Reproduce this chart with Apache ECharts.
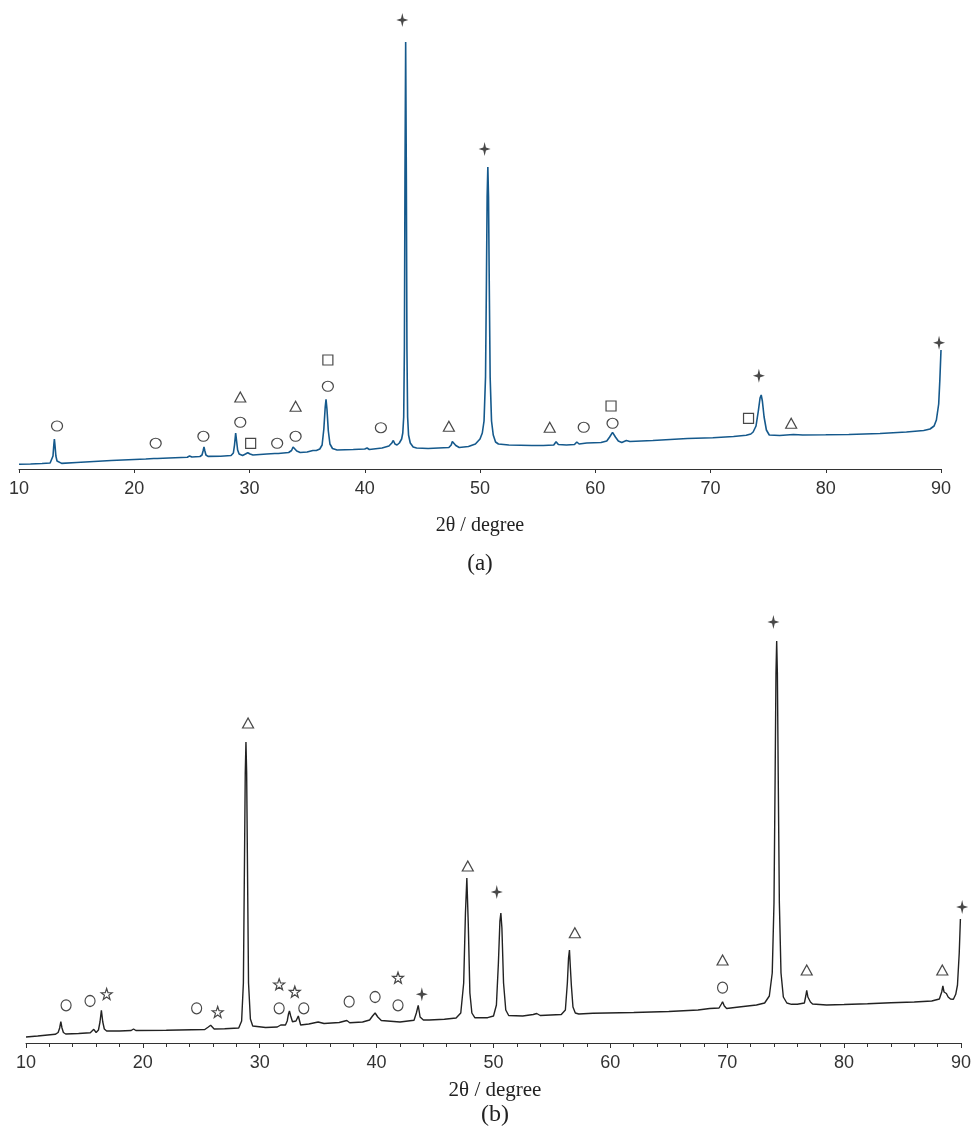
<!DOCTYPE html>
<html><head><meta charset="utf-8">
<script src="https://cdn.jsdelivr.net/npm/echarts@6/dist/echarts.min.js"></script>
<style>html,body{margin:0;padding:0;background:#fff}#c{width:974px;height:1133px}</style>
</head><body><div id="c"></div>
<script>
// ---------- data ----------
const xTicks = [10, 20, 30, 40, 50, 60, 70, 80, 90];
const axisTitle = '2θ / degree';
const panelLabels = ['(a)', '(b)'];

// (a) pattern: [2θ, intensity]
const patternA = [
  [10,4.7],[11,5],[12,5.5],[12.7,6],[12.85,8],[12.95,13],[13.02,24],[13.07,30],[13.12,24],[13.2,13],[13.3,8],[13.45,6.2],[13.7,5.6],
  [15,6.5],[18,8.5],[21,10],[21.7,10.5],[21.86,12],[22.0,10.5],[23,11],[24.6,11.8],[24.8,13],[25.0,12],
  [25.7,12.5],[25.88,14],[25.97,18],[26.05,22],[26.13,18],[26.22,14],[26.4,12.6],[27.5,12.8],[28.4,13.5],[28.6,16],[28.7,24],[28.8,36],
  [28.88,28],[28.97,19],[29.1,15],[29.4,13.5],[29.65,15],[29.85,16.3],[30.05,15],[30.3,14],[31.5,15],[32.2,15.5],
  [32.36,16.5],[32.5,15.5],[33.4,16.5],[33.65,18.5],[33.78,22],[33.86,23],[33.95,21],[34.1,18],[34.4,16.5],[35.0,17],[35.5,18.5],
  [35.8,18.5],[36.1,20],[36.3,24],[36.45,40],[36.57,62],[36.64,69.7],[36.72,60],[36.84,38],[36.98,25],[37.2,20.5],[37.6,19],[39.0,19.5],[40.0,20],
  [40.2,21],[40.4,19.5],[41.5,21],[42.1,23],[42.35,26],[42.48,28.5],[42.62,25],[42.8,24],[43.0,26],[43.2,30],[43.3,36],[43.38,52],[43.44,120],[43.49,290],
  [43.55,427],[43.61,290],[43.66,120],[43.72,52],[43.8,34],[43.95,26],[44.2,22],[44.5,21],[45.5,20.5],[47.3,21.5],[47.5,24],[47.6,27.5],[47.68,29.5],
  [47.77,27],[47.9,23.5],[48.2,21.5],[49.0,22.5],[49.6,25],[50.0,30],[50.2,36],[50.35,48],[50.48,92],[50.56,190],[50.62,272],[50.68,302],[50.74,272],
  [50.8,190],[50.88,92],[51.0,48],[51.15,34],[51.35,27],[51.6,25],[52.5,24],[54.5,23.5],[55.5,23.5],[56.4,24],[56.6,27.3],[56.8,24.5],
  [57.5,24],[58.2,24.5],[58.4,27],[58.6,25],[59.26,26],[60.5,26.5],[61.0,28],[61.25,32],[61.5,36.7],[61.75,32],[62.0,28],
  [62.3,26.5],[62.7,28.5],[63.0,27.5],[65,28.5],[68,30.5],[70.2,31.3],[72,32.5],[73.1,33.7],[73.5,35],
  [73.7,37],[73.95,43],[74.15,58],[74.3,71],[74.4,74],[74.5,68],[74.65,52],[74.85,39],[75.1,34],[76,33.5],[77.2,34.5],[78,34],
  [80,34.2],[82,34.5],[84.7,35.5],[87,37],[88.5,38.5],[89.05,40],[89.4,43],[89.6,49],[89.8,65],[89.9,89],[90,119]
];
// (a) phase markers
const aCircles   = [[13.3,43],[21.86,25.7],[26.0,32.7],[29.2,46.7],[32.4,25.7],[34.0,32.7],[36.8,82.7],[41.4,41.3],[59.0,41.7],[61.5,45.7]];
const aTriangles = [[29.2,72],[34.0,62.7],[47.3,42.7],[56.05,41.7],[77.0,45.7]];
const aSquares   = [[30.1,25.7],[36.8,109],[61.37,63],[73.3,50.7]];
const aSparkles  = [[43.26,449],[50.4,320],[74.2,93.3],[89.83,126.3]];

// (b) pattern: [2θ, intensity]
const patternB = [
  [10,6],[11,7],[12.5,8.7],[12.75,10.5],[12.88,15],[12.98,21.3],[13.08,15],[13.2,10.5],[13.4,9],[14.5,9.5],[15.5,10.3],[15.8,13.7],
  [16.0,10.5],[16.2,13],[16.33,21],[16.45,32.7],[16.57,21],[16.7,14],[16.9,12],[18,12],[19,12.5],[19.2,14],[19.4,12.5],[22,12.8],
  [25.3,13.5],[25.6,16],[25.8,17.7],[26.1,14],[27,14.3],[28.2,15],[28.45,22],[28.6,60],[28.7,190],[28.76,270],[28.82,301],
  [28.88,270],[28.94,190],[29.04,60],[29.2,24],[29.4,17],[30.5,15.5],[31.5,16],[31.8,18],[32.2,18],[32.35,22],[32.46,29],[32.54,32],[32.65,27],[32.8,21.3],
  [33.1,22],[33.3,27],[33.5,18],[34.2,19],[35.0,21],[35.5,19.5],[36.8,20.5],[37.45,22.5],[37.7,20.3],
  [38.8,21],[39.4,23],[39.65,27],[39.87,30],[40.1,26],[40.4,22.5],[42.0,21],[43.2,22.7],[43.4,30],[43.56,37.7],
  [43.72,26],[44.0,23],[44.5,23],[45.8,23.7],[46.8,25],[47.2,30],[47.45,60],[47.6,130],[47.72,165],[47.84,120],[47.98,50],[48.15,30],
  [48.4,25.3],[49.5,25.3],[50.0,27],[50.25,38],[50.42,80],[50.55,122],[50.63,130],[50.72,115],[50.86,60],[51.05,33],[51.3,27.5],
  [52.5,27],[53.4,28.5],[53.7,29.5],[54.0,27.5],[55.8,28.5],[56.15,33],[56.32,60],[56.42,85],[56.5,93],[56.58,75],[56.66,58],[56.8,36],[57.0,30],[57.3,29],[58.5,29.7],[62,30.5],[65,31.5],[67.5,33],[68.5,34.5],[69.3,35],
  [69.5,39],[69.6,41.3],[69.75,37],[69.95,34.5],[71,36],[72.5,38],[73.2,40],[73.6,47],[73.85,70],[74.0,140],[74.1,270],[74.17,370],[74.23,402],
  [74.29,370],[74.36,270],[74.46,140],[74.6,70],[74.8,46],[75.1,40],[75.5,38.7],[76.0,38.7],[76.6,40],[76.72,47],[76.8,52.7],[76.9,46],[77.0,45.5],
  [77.12,41],[77.3,39],[78.5,38],[80,38.5],[82,39.3],[84,40.3],[86,41],[87.5,42],[88.15,44],[88.35,51],[88.45,57],[88.55,51],[88.65,49],
  [88.75,49.5],[88.9,46],[89.1,44],[89.35,43.7],[89.55,48.7],[89.7,58],[89.85,90],[89.95,124]
];
// (b) phase markers
const bCircles   = [[13.43,37.7],[15.48,42],[24.6,34.7],[31.66,34.7],[33.77,34.7],[37.65,41.3],[39.87,46],[41.83,37.7],[69.6,55.3]];
const bStars     = [[16.9,49],[26.4,31],[31.66,58.7],[33.0,51.3],[41.83,65.3]];
const bTriangles = [[29.0,320],[47.8,177],[56.96,110.3],[69.6,83],[76.8,73],[88.4,73]];
const bSparkles  = [[43.87,48.7],[50.28,151],[73.95,421],[90.1,136]];

// ---------- chart ----------
const SPARKLE = 'path://M0,-10 L2.2,-2.2 L10,0 L2.2,2.2 L0,10 L-2.2,2.2 L-10,0 L-2.2,-2.2 Z';
const STAR5 = 'path://M0,-10 L2.35,-3.24 L9.51,-3.09 L3.8,1.24 L5.88,8.09 L0,4 L-5.88,8.09 L-3.8,1.24 L-9.51,-3.09 L-2.35,-3.24 Z';
const hollow = {color:'rgba(255,255,255,0)', borderColor:'#1a1a1a', borderWidth:1.2};

function scatter(idx, data, symbol, size, style){
  return {type:'scatter', xAxisIndex:idx, yAxisIndex:idx, data:data, symbol:symbol, symbolSize:size,
    itemStyle:style, clip:false, silent:true, z:5, animation:false};
}
const labelStyle = {color:'#333', fontSize:18, fontFamily:'Liberation Sans, Arial, sans-serif'};

const chart = echarts.init(document.getElementById('c'), null, {renderer:'canvas'});
chart.setOption({
  backgroundColor:'#fff',
  animation:false,
  grid:[
    {left:19, right:33, top:10, bottom:664},
    {left:26, right:9, top:600, bottom:90}
  ],
  xAxis:[
    {gridIndex:0, type:'value', min:xTicks[0], max:xTicks[xTicks.length-1], interval:10,
      axisLine:{show:true, lineStyle:{color:'#333', width:1}},
      axisTick:{show:true, length:4, lineStyle:{color:'#333'}},
      axisLabel:Object.assign({margin:11}, labelStyle),
      splitLine:{show:false}},
    {gridIndex:1, type:'value', min:xTicks[0], max:xTicks[xTicks.length-1], interval:10,
      axisLine:{show:true, lineStyle:{color:'#333', width:1}},
      axisTick:{show:true, length:5, lineStyle:{color:'#333'}},
      minorTick:{show:true, splitNumber:5, length:4, lineStyle:{color:'#333'}},
      axisLabel:Object.assign({margin:11}, labelStyle),
      splitLine:{show:false}}
  ],
  yAxis:[
    {gridIndex:0, type:'value', min:0, max:459, show:false, splitLine:{show:false}},
    {gridIndex:1, type:'value', min:0, max:443, show:false, splitLine:{show:false}}
  ],
  graphic:[
    {type:'text', x:480, y:526, style:{text:axisTitle, textAlign:'center', textVerticalAlign:'middle', font:'20px "Liberation Serif", "Times New Roman", serif', fill:'#222'}},
    {type:'text', x:480, y:564, style:{text:panelLabels[0], textAlign:'center', textVerticalAlign:'middle', font:'23px "Liberation Serif", "Times New Roman", serif', fill:'#222'}},
    {type:'text', x:495, y:1090, style:{text:axisTitle, textAlign:'center', textVerticalAlign:'middle', font:'21px "Liberation Serif", "Times New Roman", serif', fill:'#222'}},
    {type:'text', x:495, y:1115, style:{text:panelLabels[1], textAlign:'center', textVerticalAlign:'middle', font:'24px "Liberation Serif", "Times New Roman", serif', fill:'#222'}}
  ],
  series:[
    {type:'line', xAxisIndex:0, yAxisIndex:0, data:patternA, showSymbol:false, symbol:'none',
      lineStyle:{color:'#15598c', width:1.6}, silent:true, z:3},
    {type:'line', xAxisIndex:1, yAxisIndex:1, data:patternB, showSymbol:false, symbol:'none',
      lineStyle:{color:'#222', width:1.4}, silent:true, z:3},
    scatter(0, aCircles, 'circle', [11,10], hollow),
    scatter(0, aTriangles, 'triangle', [11,10], hollow),
    scatter(0, aSquares, 'rect', [10,10], hollow),
    scatter(0, aSparkles, SPARKLE, [12,14], {color:'#1a1a1a'}),
    scatter(1, bCircles, 'circle', [10,11], hollow),
    scatter(1, bStars, STAR5, [11,11], hollow),
    scatter(1, bTriangles, 'triangle', [11,10], hollow),
    scatter(1, bSparkles, SPARKLE, [12,14], {color:'#1a1a1a'})
  ]
});
</script></body></html>
